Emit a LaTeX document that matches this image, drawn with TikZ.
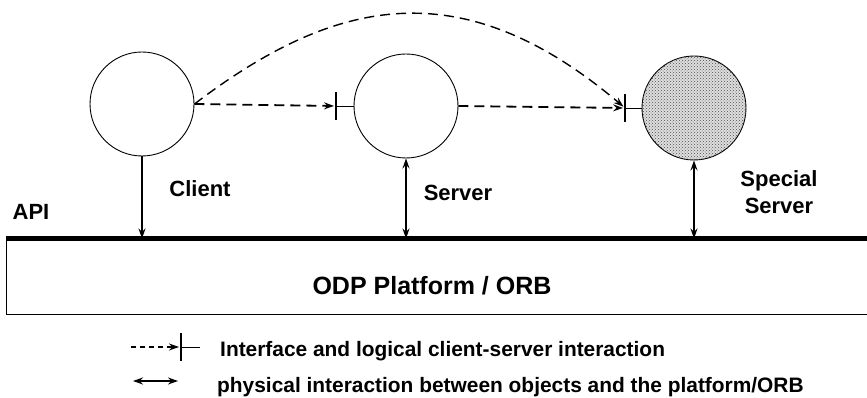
\documentclass[tikz,border=0pt]{standalone}
\usepackage{fontspec}
\setmainfont{Liberation Sans}
\usetikzlibrary{arrows.meta,patterns}
\begin{document}
\begin{tikzpicture}[x=1pt,y=-1pt,
  obj/.style={circle,draw,line width=0.9pt,minimum size=104pt,inner sep=0pt},
  lbl/.style={font=\fontsize{22}{24}\selectfont\bfseries,align=center,inner sep=0pt},
  legtxt/.style={font=\fontsize{20.9}{22}\selectfont\bfseries,anchor=base west,inner sep=0pt},
  tip/.style={-{Stealth[length=10pt,width=7pt,inset=3.5pt]}},
  dtip/.style={{Stealth[length=10pt,width=7pt,inset=3.5pt]}-{Stealth[length=10pt,width=7pt,inset=3.5pt]}},
  phys/.style={line width=1.6pt},
  logic/.style={line width=1.8pt,dash pattern=on 10pt off 6pt},
  teebar/.style={line width=2pt},
  stub/.style={line width=0.9pt}
]
\useasboundingbox (0,0) rectangle (867,398);

% objects
\node[obj] (client) at (142,104) {};
\node[obj] (server) at (406,106) {};
\node[obj,fill=gray!25,postaction={pattern=crosshatch dots,pattern color=black!70}] (special) at (694,108) {};

% platform
\node[draw,line width=0.9pt,minimum width=869pt,minimum height=75pt,anchor=north west,inner sep=0pt] (orb) at (6,238.5) {};
\coordinate (apil) at (6,238.5);
\coordinate (apir) at (875,238.5);
\draw[line width=5pt] (apil) -- (apir);
\node[font=\fontsize{25}{27}\selectfont\bfseries,inner sep=0pt] (orbtxt) at (432,286) {ODP Platform / ORB};
\node[lbl] (api) at (31,212) {API};

% labels
\node[lbl] (clbl) at (200,189) {Client};
\node[lbl] (slbl) at (458,193) {Server};
\node[lbl] (sslbl) at (779,192) {Special\\[3pt]Server};

% interfaces
\coordinate (sif) at (336,106);
\coordinate (ssif) at (625,108);
\draw[teebar] ([yshift=-14pt]sif) -- ([yshift=14pt]sif);
\draw[stub] (sif) -- (server.west);
\draw[teebar] ([yshift=-14pt]ssif) -- ([yshift=14pt]ssif);
\draw[stub] (ssif) -- (special.west);

% logical interactions
\draw[logic,tip,shorten >=2pt] (client.east) -- (sif);
\draw[logic,tip,shorten >=2pt] (server.east) -- (ssif);
\draw[line width=1.4pt,dash pattern=on 10pt off 6pt,tip,shorten >=2pt]
  (client.east) .. controls (335,-3) and (462,-30) .. (ssif);

% physical interactions
\draw[phys,tip] (client.south) -- (client.south |- apil);
\draw[phys,dtip] (server.south) -- (server.south |- apil);
\draw[phys,dtip] (special.south) -- (special.south |- apil);

% legend
\coordinate (l1a) at (131,347);
\coordinate (l1t) at (181,347);
\coordinate (l1b) at (200,347);
\draw[line width=1.1pt,dash pattern=on 5pt off 4pt,tip,shorten >=2pt] (l1a) -- (l1t);
\draw[teebar] ([yshift=-14pt]l1t) -- ([yshift=14pt]l1t);
\draw[stub] (l1t) -- (l1b);
\node[legtxt] (leg1) at (220,356) {Interface and logical client-server interaction};

\coordinate (l2a) at (133,381);
\coordinate (l2b) at (178,381);
\draw[phys,dtip] (l2a) -- (l2b);
\node[legtxt] (leg2) at (217,392) {physical interaction between objects and the platform/ORB};
\end{tikzpicture}
\end{document}
